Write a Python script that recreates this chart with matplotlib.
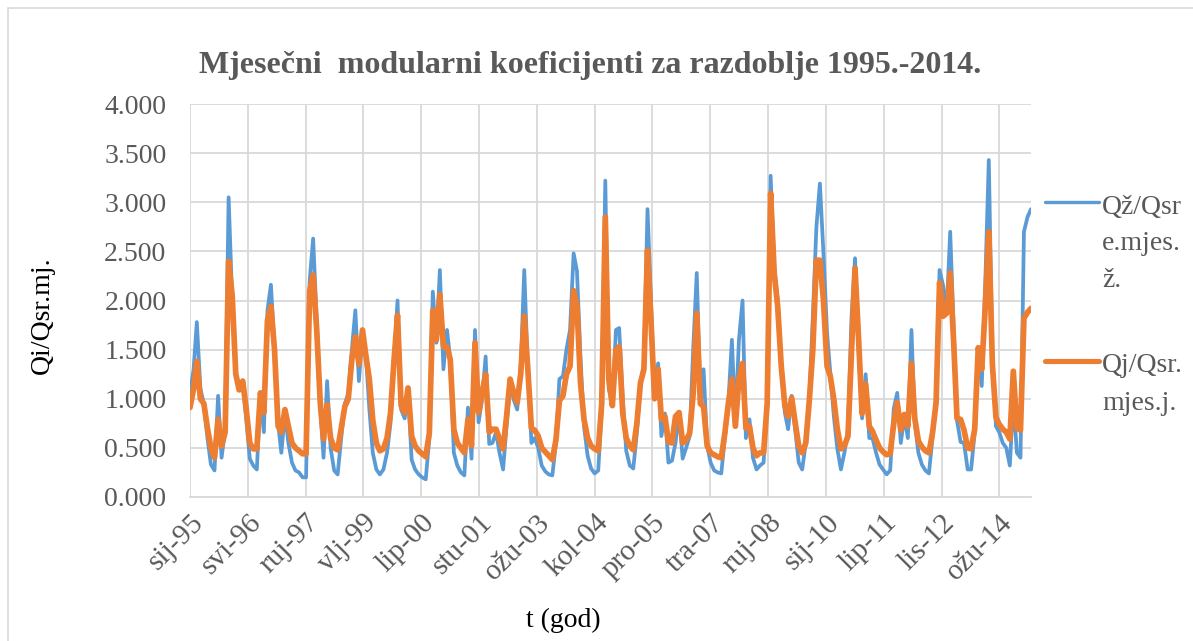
import numpy as np
import pandas as pd
import matplotlib
matplotlib.use("Agg")
import matplotlib.pyplot as plt
from matplotlib.lines import Line2D
from matplotlib.patches import Rectangle

plt.rcParams['font.family'] = ['Liberation Serif', 'DejaVu Serif']

# mjesečni modularni koeficijenti, siječanj 1995. - prosinac 2014.
qz = [
    1.05, 1.30, 1.78, 1.10, 0.95, 0.60, 0.33, 0.27, 1.03, 0.40, 0.69, 3.05,
    2.00, 1.26, 1.13, 1.16, 0.80, 0.39, 0.32, 0.28, 1.03, 0.66, 1.90, 2.16,
    1.50, 0.75, 0.45, 0.86, 0.55, 0.35, 0.27, 0.25, 0.20, 0.20, 2.20, 2.63,
    1.80, 0.90, 0.40, 1.18, 0.50, 0.27, 0.23, 0.60, 0.95, 1.05, 1.50, 1.90,
    1.18, 1.67, 1.47, 0.90, 0.45, 0.28, 0.23, 0.28, 0.45, 0.75, 1.40, 2.00,
    0.89, 0.80, 1.09, 0.38, 0.28, 0.23, 0.20, 0.18, 0.60, 2.09, 1.57, 2.31,
    1.30, 1.70, 1.40, 0.45, 0.32, 0.25, 0.22, 0.91, 0.39, 1.70, 0.76, 0.99,
    1.43, 0.54, 0.55, 0.66, 0.45, 0.28, 0.72, 1.16, 0.99, 0.89, 1.33, 2.31,
    1.30, 0.55, 0.60, 0.50, 0.32, 0.26, 0.23, 0.22, 0.55, 1.20, 1.23, 1.50,
    1.70, 2.48, 2.30, 1.40, 0.72, 0.42, 0.29, 0.24, 0.27, 0.90, 3.22, 1.10,
    0.95, 1.70, 1.72, 1.00, 0.47, 0.32, 0.29, 0.65, 1.16, 1.35, 2.93, 2.00,
    1.00, 1.36, 0.62, 0.85, 0.35, 0.37, 0.55, 0.86, 0.39, 0.50, 0.62, 1.50,
    2.28, 1.00, 1.30, 0.52, 0.35, 0.27, 0.25, 0.24, 0.60, 0.95, 1.60, 0.75,
    1.60, 2.00, 0.60, 0.79, 0.40, 0.28, 0.32, 0.35, 0.95, 3.27, 2.34, 2.00,
    1.33, 0.86, 0.69, 1.03, 0.69, 0.35, 0.28, 0.55, 1.00, 1.84, 2.75, 3.19,
    2.48, 1.67, 1.26, 0.82, 0.49, 0.28, 0.45, 0.69, 1.84, 2.43, 1.50, 0.80,
    1.25, 0.60, 0.60, 0.45, 0.33, 0.28, 0.23, 0.27, 0.90, 1.06, 0.55, 0.82,
    0.60, 1.70, 0.75, 0.45, 0.33, 0.27, 0.24, 0.60, 1.00, 2.31, 2.15, 1.87,
    2.70, 1.70, 0.78, 0.56, 0.55, 0.28, 0.28, 0.66, 1.47, 1.13, 2.20, 3.43,
    1.40, 0.72, 0.66, 0.55, 0.50, 0.32, 1.00, 0.45, 0.40, 2.70, 2.85, 2.93,
]
qj = [
    0.91, 1.10, 1.38, 1.00, 0.95, 0.70, 0.50, 0.40, 0.79, 0.52, 0.66, 2.40,
    2.05, 1.25, 1.09, 1.18, 0.90, 0.55, 0.49, 0.49, 1.06, 0.86, 1.80, 1.94,
    1.50, 0.72, 0.66, 0.89, 0.72, 0.55, 0.50, 0.47, 0.44, 0.44, 2.10, 2.26,
    1.70, 0.95, 0.59, 0.94, 0.60, 0.50, 0.48, 0.70, 0.92, 1.00, 1.40, 1.63,
    1.35, 1.70, 1.45, 1.20, 0.78, 0.55, 0.47, 0.49, 0.60, 0.85, 1.40, 1.85,
    0.93, 0.86, 1.11, 0.62, 0.52, 0.47, 0.44, 0.41, 0.65, 1.90, 1.60, 2.06,
    1.53, 1.53, 1.40, 0.69, 0.55, 0.50, 0.45, 0.79, 0.52, 1.57, 0.86, 1.06,
    1.25, 0.66, 0.69, 0.69, 0.59, 0.49, 0.82, 1.20, 1.06, 0.96, 1.26, 1.84,
    1.30, 0.70, 0.68, 0.62, 0.50, 0.46, 0.42, 0.38, 0.58, 0.98, 1.03, 1.25,
    1.33, 2.10, 1.95, 1.15, 0.79, 0.60, 0.52, 0.49, 0.47, 0.95, 2.85, 1.20,
    0.93, 1.50, 1.53, 0.85, 0.60, 0.52, 0.48, 0.75, 1.16, 1.30, 2.51, 1.80,
    1.00, 1.30, 0.79, 0.82, 0.56, 0.55, 0.82, 0.86, 0.55, 0.58, 0.65, 1.05,
    1.87, 0.95, 0.92, 0.52, 0.45, 0.43, 0.41, 0.40, 0.65, 0.95, 1.20, 0.72,
    1.20, 1.36, 0.70, 0.72, 0.50, 0.42, 0.45, 0.45, 0.95, 3.09, 2.28, 1.94,
    1.33, 0.93, 0.82, 1.01, 0.76, 0.52, 0.45, 0.55, 0.99, 1.50, 2.41, 2.41,
    2.00, 1.33, 1.23, 0.99, 0.69, 0.49, 0.52, 0.62, 1.50, 2.33, 1.60, 0.85,
    1.15, 0.72, 0.67, 0.58, 0.50, 0.46, 0.43, 0.44, 0.75, 0.96, 0.68, 0.84,
    0.72, 1.36, 0.80, 0.57, 0.51, 0.47, 0.45, 0.65, 0.96, 2.18, 1.84, 1.87,
    2.28, 1.55, 0.80, 0.79, 0.68, 0.50, 0.49, 0.69, 1.52, 1.30, 1.95, 2.70,
    1.35, 0.81, 0.74, 0.69, 0.66, 0.59, 1.28, 0.70, 0.68, 1.82, 1.88, 1.92,
]
mjeseci = ['sij', 'vlj', 'ožu', 'tra', 'svi', 'lip', 'srp', 'kol', 'ruj', 'lis', 'stu', 'pro']
oznake = ['Qž/Qsr\ne.mjes.\nž.', 'Qj/Qsr.\nmjes.j.']
boje = ['#5B9BD5', '#ED7D31']
debljine = [2.7, 4.1]

datumi = pd.date_range('1995-01-01', periods=len(qz), freq='MS')

W, H = 1193, 641
fig = plt.figure(figsize=(W / 100, H / 100), dpi=100)
fig.patches.append(Rectangle((8 / W, -0.01), 1.0, 1 - 8 / H + 0.01, transform=fig.transFigure,
                             fill=False, edgecolor='#D9D9D9', linewidth=1.2))
ax = fig.add_axes([190 / W, 1 - 497 / H, 841 / W, 393 / H])

for serija, boja, lw in zip([qz, qj], boje, debljine):
    ax.plot(datumi, serija, color=boja, linewidth=lw,
            solid_joinstyle='round', solid_capstyle='round')

# oznake na osi x svakih 500 dana
tick_d = [datumi[0] + pd.Timedelta(days=500 * k) for k in range(15)]
ax.set_xticks(tick_d)
ax.set_xticklabels([f"{mjeseci[d.month - 1]}-{d.year % 100:02d}" for d in tick_d],
                   rotation=45, ha='right', rotation_mode='anchor',
                   fontsize=21, color='#595959')
ax.set_xlim(datumi[0], datumi[-1])

yt = np.arange(0, 4.01, 0.5)
ax.set_ylim(0, 4)
ax.set_yticks(yt)
ax.set_yticklabels([f"{v:.3f}" for v in yt], fontsize=20, color='#595959')
ax.tick_params(axis='y', length=0, pad=17)
ax.tick_params(axis='x', length=0, pad=9)

ax.grid(True, color='#D9D9D9', linewidth=1.3)
ax.set_axisbelow(True)
for s in ['top', 'right', 'left']:
    ax.spines[s].set_visible(False)
ax.spines['bottom'].set_color('#D9D9D9')
ax.spines['bottom'].set_linewidth(1.3)

fig.text(42 / W, 1 - 315 / H, 'Qi/Qsr.mj.', rotation=90, ha='center', va='center', fontsize=20)
fig.text(563 / W, 1 - 620 / H, 't (god)', ha='center', va='center', fontsize=20)
fig.text(590 / W, 1 - 65 / H, 'Mjesečni  modularni koeficijenti za razdoblje 1995.-2014.',
         ha='center', va='center', fontsize=23, fontweight='bold', color='#595959')

# legenda desno od grafa
for oznaka, boja, lw, y0 in zip(oznake, boje, debljine, [202, 361]):
    fig.add_artist(Line2D([1045 / W, 1099 / W], [1 - y0 / H, 1 - y0 / H], color=boja,
                          linewidth=lw * 0.9, solid_capstyle='round', transform=fig.transFigure))
    for i, red in enumerate(oznaka.split('\n')):
        fig.text(1102 / W, 1 - (y0 + 2 + 37 * i) / H, red, ha='left', va='center_baseline',
                 fontsize=20, color='#595959')

fig.savefig('out.png', dpi=100)
